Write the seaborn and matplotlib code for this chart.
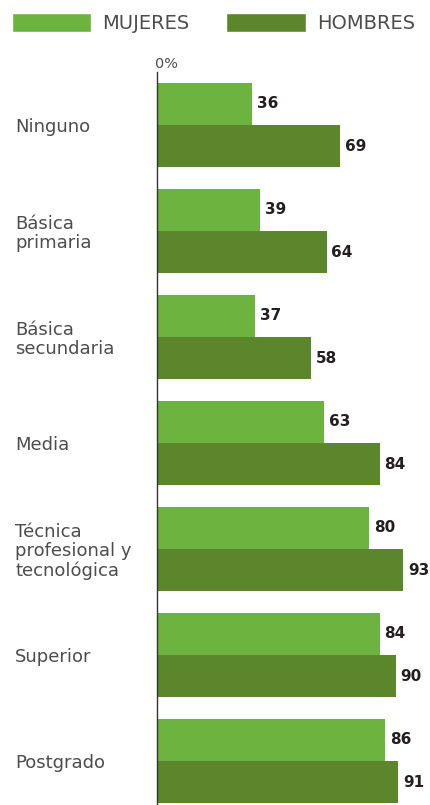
import matplotlib
matplotlib.use("Agg")
import matplotlib.pyplot as plt
import seaborn as sns
import pandas as pd
from matplotlib.patches import Patch

categories = ["Ninguno", "Básica\nprimaria", "Básica\nsecundaria", "Media",
              "Técnica\nprofesional y\ntecnológica", "Superior", "Postgrado"]
mujeres = [36, 39, 37, 63, 80, 84, 86]
hombres = [69, 64, 58, 84, 93, 90, 91]
series = ["MUJERES", "HOMBRES"]
colors = ["#6db33f", "#5b862b"]

df = pd.DataFrame({
    "cat": categories * 2,
    "val": mujeres + hombres,
    "serie": [series[0]] * len(categories) + [series[1]] * len(categories),
})

sns.set_theme(style="white")
plt.rcParams["font.family"] = ["DejaVu Sans"]

W, H = 430, 805
fig = plt.figure(figsize=(W / 100, H / 100), dpi=100)
ax = fig.add_axes([157 / W, 0, (W - 157) / W, (805 - 72) / H])

sns.barplot(data=df, y="cat", x="val", hue="serie", orient="h",
            palette=colors, width=0.8, linewidth=0, saturation=1,
            ax=ax, legend=False)

ax.set_xlim(0, 103)
ax.set_ylim(6.415, -0.5)

for c in ax.containers:
    ax.bar_label(c, fmt="%d", padding=3.5, fontsize=11, fontweight="bold",
                 color="#231f20")

for s in ["top", "right", "bottom"]:
    ax.spines[s].set_visible(False)
ax.spines["left"].set_color("#333333")
ax.spines["left"].set_linewidth(1.0)

ax.set_xticks([])
ax.set_xlabel("")
ax.set_ylabel("")
ax.set_yticks(range(len(categories)))
ax.set_yticklabels(categories, fontsize=13, color="#4d4d4d",
                   linespacing=1.1)
ax.tick_params(axis="y", length=0, pad=102)
for t in ax.get_yticklabels():
    t.set_ha("left")

ax.annotate("0%", xy=(0, 1), xycoords="axes fraction",
            xytext=(-1.5, 1), textcoords="offset points",
            ha="left", va="bottom", fontsize=10.4, color="#4d4d4d")

handles = [Patch(facecolor=colors[0]), Patch(facecolor=colors[1])]
fig.legend(handles, series, loc="upper left", bbox_to_anchor=(12 / W, 1 - 13 / H),
           ncol=2, frameon=False, fontsize=14, handlelength=4.07,
           handleheight=1.15, handletextpad=0.57, columnspacing=1.9,
           borderpad=0, borderaxespad=0, labelcolor="#4d4d4d")

fig.savefig("out.png", dpi=100)
